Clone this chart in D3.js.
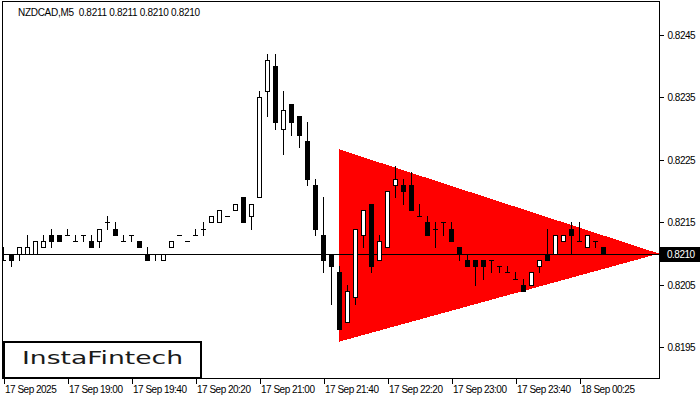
<!DOCTYPE html>
<html><head><meta charset="utf-8">
<script src="https://cdn.jsdelivr.net/npm/d3@7"></script>
<style>
html,body{margin:0;padding:0;background:#fff;}
svg{display:block;}
.ax text{font-family:"Liberation Sans",Arial,sans-serif;font-size:10px;letter-spacing:-0.5px;fill:#000;}
</style></head>
<body>
<svg id="c" width="700" height="400"></svg>
<script>
// ---- data (k = -1 .. 74, M5 bars) ----
const opens  = [0.8209,0.8210,0.8210,0.8210,0.8210,0.8211,0.8213,0.8213,0.8213,0.8212,0.8213,0.8212,0.8212,0.8215,0.8214,0.8212,0.8213,0.8212,0.8210,0.8210,0.8209,0.8211,0.8213,0.8212,0.8213,0.8214,0.8215,0.8215,0.8216,0.8217,0.8219,0.8216,0.8219,0.8236,0.8240,0.8230,0.8234,0.8232,0.8228,0.8221,0.8213,0.8210,0.8207,0.8199,0.8203,0.8213,0.8218,0.8209,0.8211,0.8221,0.8221,0.8221,0.8216,0.8215,0.8214,0.8215,0.8214,0.8211,0.8209,0.8209,0.8209,0.8209,0.8208,0.8207,0.8206,0.8205,0.8205,0.8208,0.8210,0.8210,0.8212,0.8214,0.8212,0.8211,0.8212,0.8211];
const highs  = [0.8211,0.8210,0.8211,0.8213,0.8212,0.8213,0.8214,0.8213,0.8214,0.8213,0.8213,0.8213,0.8214,0.8216,0.8215,0.8213,0.8213,0.8212,0.8211,0.8210,0.8210,0.8212,0.8213,0.8212,0.8214,0.8215,0.8216,0.8217,0.8216,0.8218,0.8219,0.8218,0.8236,0.8242,0.8242,0.8236,0.8234,0.8232,0.8231,0.8222,0.8219,0.8210,0.8208,0.8205,0.8214,0.8217,0.8218,0.8213,0.8220,0.8224,0.8222,0.8223,0.8218,0.8216,0.8215,0.8215,0.8215,0.8211,0.8210,0.8209,0.8209,0.8209,0.8208,0.8208,0.8207,0.8206,0.8207,0.8209,0.8214,0.8213,0.8213,0.8215,0.8215,0.8213,0.8212,0.8211];
const lows   = [0.8209,0.8208,0.8209,0.8210,0.8210,0.8211,0.8211,0.8212,0.8213,0.8212,0.8212,0.8211,0.8211,0.8214,0.8213,0.8212,0.8212,0.8211,0.8209,0.8209,0.8209,0.8211,0.8213,0.8212,0.8213,0.8213,0.8215,0.8215,0.8216,0.8217,0.8215,0.8214,0.8219,0.8232,0.8230,0.8226,0.8229,0.8227,0.8221,0.8213,0.8207,0.8202,0.8198,0.8199,0.8202,0.8211,0.8207,0.8209,0.8211,0.8219,0.8218,0.8217,0.8216,0.8213,0.8211,0.8213,0.8212,0.8209,0.8208,0.8205,0.8206,0.8207,0.8207,0.8207,0.8206,0.8204,0.8205,0.8207,0.8209,0.8210,0.8212,0.8210,0.8212,0.8211,0.8211,0.8210];
const closes = [0.8209,0.8209,0.8211,0.8211,0.8212,0.8212,0.8212,0.8212,0.8213,0.8212,0.8213,0.8211,0.8214,0.8215,0.8213,0.8212,0.8213,0.8211,0.8209,0.8210,0.8210,0.8212,0.8213,0.8212,0.8213,0.8214,0.8216,0.8217,0.8216,0.8218,0.8215,0.8218,0.8235,0.8241,0.8231,0.8233,0.8231,0.8229,0.8222,0.8214,0.8209,0.8208,0.8198,0.8204,0.8214,0.8217,0.8208,0.8212,0.8220,0.8222,0.8220,0.8217,0.8216,0.8213,0.8214,0.8215,0.8212,0.8210,0.8208,0.8208,0.8208,0.8209,0.8208,0.8207,0.8206,0.8204,0.8207,0.8209,0.8209,0.8213,0.8213,0.8213,0.8212,0.8213,0.8212,0.8210];

const priceTicks = [0.8195,0.8205,0.8215,0.8225,0.8235,0.8245];
const timeTickIdx = [0,8,16,24,32,40,48,56,64,72];
const timeLabels = ["17 Sep 2025","17 Sep 19:00","17 Sep 19:40","17 Sep 20:20","17 Sep 21:00","17 Sep 21:40","17 Sep 22:20","17 Sep 23:00","17 Sep 23:40","18 Sep 00:25"];

const triIdx   = [42, 42, 82];
const triPrice = [0.82267, 0.81959, 0.82100];

const lastPrice = 0.8210;
const title = "NZDCAD,M5\u00a0\u00a00.8211 0.8211 0.8210 0.8210";
const logoText = "InstaFintech";

// ---- layout ----
const L = 3, R = 659, T = 1, B = 378;
const svg = d3.select("#c");
const x = d3.scaleLinear().domain([0, 75]).range([3, 603]);
const y = d3.scaleLinear().domain([0.8195, 0.8245]).range([347.3, 35]);

svg.append("defs").append("clipPath").attr("id","pc")
  .append("rect").attr("x",L).attr("y",T).attr("width",R-L).attr("height",B-T);

const plot = svg.append("g").attr("clip-path","url(#pc)");

// triangle
plot.append("path")
  .attr("d", d3.line()(triIdx.map((d,i)=>[x(d), y(triPrice[i])])) + "Z")
  .attr("fill","#ff0000").attr("shape-rendering","crispEdges");

// bid line
plot.append("line")
  .attr("x1",L).attr("x2",R).attr("y1",Math.round(y(lastPrice))+0.5).attr("y2",Math.round(y(lastPrice))+0.5)
  .attr("stroke","#000").attr("stroke-width",1).attr("shape-rendering","crispEdges");

// candles
const idx = d3.range(opens.length);
const cg = plot.append("g").attr("shape-rendering","crispEdges");
const py = v => Math.round(y(v));
idx.forEach(i => {
  const cx = Math.round(x(i));
  const o = opens[i], c = closes[i], h = highs[i], l = lows[i];
  cg.append("line").attr("x1",cx+0.5).attr("x2",cx+0.5)
    .attr("y1",py(h)).attr("y2",py(l)+1).attr("stroke","#000");
  if (o === c) {
    cg.append("line").attr("x1",cx-2).attr("x2",cx+3)
      .attr("y1",py(o)+0.5).attr("y2",py(o)+0.5).attr("stroke","#000");
  } else {
    const top = py(Math.max(o,c)), bot = py(Math.min(o,c));
    cg.append("rect").attr("x",cx-1.5).attr("y",top+0.5)
      .attr("width",4).attr("height",bot-top)
      .attr("fill", c > o ? "#fff" : "#000").attr("stroke","#000");
  }
});

// frame
svg.append("rect").attr("x",L-0.5).attr("y",T+0.5).attr("width",R-L+1).attr("height",B-T)
  .attr("fill","none").attr("stroke","#000").attr("shape-rendering","crispEdges");

// price axis
const ya = svg.append("g").attr("class","ax").attr("transform",`translate(${R+0.5},0)`)
  .call(d3.axisRight(y).tickValues(priceTicks).tickSize(4).tickPadding(4).tickFormat(d3.format(".4f")));
ya.select(".domain").remove();
ya.selectAll(".tick line").attr("stroke","#000").attr("shape-rendering","crispEdges");

// current price label
const ly = py(lastPrice);
svg.append("rect").attr("x",R+1).attr("y",ly-7).attr("width",700-R-1).attr("height",15).attr("fill","#000");
svg.append("text").attr("x",R+8).attr("y",ly).attr("dy","0.35em")
  .style("font-family","Liberation Sans,Arial,sans-serif").style("font-size","10px").style("letter-spacing","-0.5px")
  .attr("fill","#fff").text(d3.format(".4f")(lastPrice));

// time axis
const xa = svg.append("g").attr("class","ax").attr("transform",`translate(0.5,${B+0.5})`)
  .call(d3.axisBottom(x).tickValues(timeTickIdx).tickSize(5).tickPadding(2).tickFormat((d,i)=>timeLabels[i]));
xa.select(".domain").remove();
xa.selectAll(".tick line").attr("stroke","#000").attr("shape-rendering","crispEdges");
xa.selectAll(".tick text").attr("text-anchor","start").attr("x",1);

// title
svg.append("text").attr("x",18).attr("y",16)
  .attr("textLength",182).attr("lengthAdjust","spacing")
  .style("font-family","Liberation Sans,Arial,sans-serif").style("font-size","10px")
  .attr("fill","#000").text(title);

// logo
svg.append("rect").attr("x",4).attr("y",342).attr("width",197).attr("height",36)
  .attr("fill","#fff").attr("stroke","#000").attr("stroke-width",2);
svg.append("text").attr("x",22).attr("y",364)
  .attr("textLength",161).attr("lengthAdjust","spacingAndGlyphs")
  .style("font-family","DejaVu Sans,sans-serif").style("font-size","18px").style("font-weight","500")
  .attr("fill","#1a1a1a").text(logoText);
</script>
</body></html>
